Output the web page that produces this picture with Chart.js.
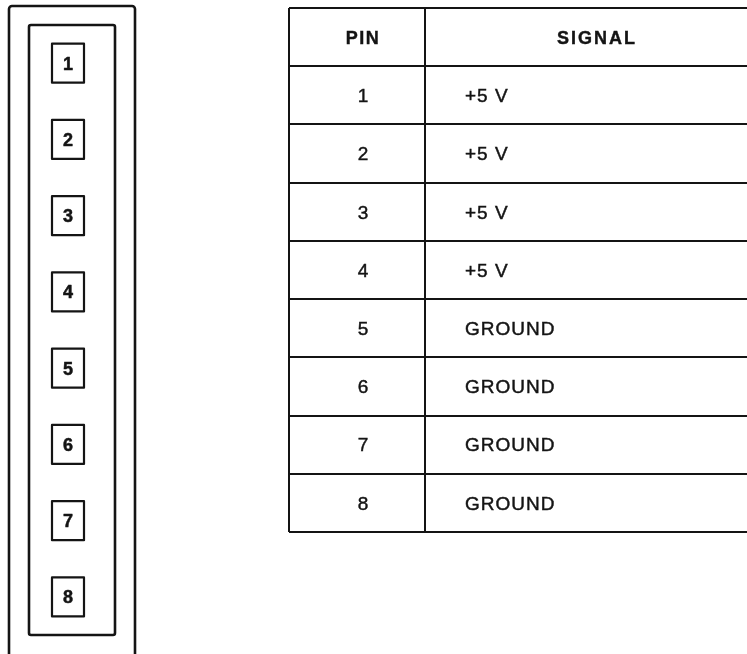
<!DOCTYPE html>
<html><head><meta charset="utf-8">
<script src="https://cdn.jsdelivr.net/npm/chart.js@4"></script>
<style>
html,body{margin:0;padding:0;background:#fff;}
#wrap{position:relative;width:747px;height:654px;overflow:hidden;background:#fff;}
canvas{position:absolute;left:0;top:0;}
</style></head><body>
<div id="wrap"><canvas id="conn" width="747" height="654"></canvas><canvas id="tbl" width="747" height="654"></canvas></div>
<script>
// ---- data ----
const pins = [1, 2, 3, 4, 5, 6, 7, 8];
const signals = ['+5 V', '+5 V', '+5 V', '+5 V', 'GROUND', 'GROUND', 'GROUND', 'GROUND'];
const headers = ['PIN', 'SIGNAL'];
const pinLabels = pins.map(String);
const rowLabels = [headers[0]].concat(pinLabels);

// ---- style / layout ----
const INK = '#141414';
const FONT = '"Liberation Sans", Arial, sans-serif';
const BOX_X = 0.4535;      // pin box centre across the connector (fraction)
const COL_SPLIT = 0.2969;  // divider between table columns (fraction)
const COL1_CENTER = 0.1616;
const SIG_LEFT = 0.3843;
const SIG_HDR = 0.6725;

function capText(ctx, txt, x, y, size, bold, align, spacing, weightStroke) {
  ctx.font = (bold ? 'bold ' : '') + size + 'px ' + FONT;
  ctx.letterSpacing = spacing + 'px';
  ctx.textAlign = align;
  ctx.textBaseline = 'alphabetic';
  const by = y + size * 0.358;
  ctx.fillText(txt, x, by);
  if (weightStroke) {
    ctx.lineWidth = weightStroke;
    ctx.strokeStyle = INK;
    ctx.strokeText(txt, x, by);
  }
}

const connPlugin = {
  id: 'connDraw',
  afterDatasetsDraw(chart) {
    const { ctx, chartArea: a } = chart;
    ctx.save();
    ctx.strokeStyle = INK;
    ctx.lineJoin = 'round';
    ctx.lineWidth = 2.6;
    ctx.beginPath();
    ctx.roundRect(a.left - 20, a.top - 19, a.width + 40, 720, 3);
    ctx.stroke();
    ctx.beginPath();
    ctx.roundRect(a.left, a.top, a.width, a.height, 2);
    ctx.stroke();
    const meta = chart.getDatasetMeta(0);
    meta.data.forEach((pt, i) => {
      ctx.lineWidth = 2.2;
      ctx.strokeStyle = INK;
      ctx.strokeRect(pt.x - 16, pt.y - 19.5, 32, 39);
      ctx.fillStyle = INK;
      capText(ctx, String(pins[i]), pt.x, pt.y, 18, true, 'center', 0, 0.5);
    });
    ctx.restore();
  }
};

new Chart(document.getElementById('conn'), {
  type: 'scatter',
  data: { datasets: [{ data: pinLabels.map(p => ({ x: BOX_X, y: p })), pointRadius: 0 }] },
  options: {
    responsive: false, animation: false, devicePixelRatio: 1, events: [],
    layout: { padding: { left: 29, top: 25, right: 632, bottom: 19 } },
    plugins: { legend: { display: false }, tooltip: { enabled: false } },
    scales: {
      x: { type: 'linear', min: 0, max: 1, display: false },
      y: { type: 'category', labels: pinLabels, offset: true, display: false }
    }
  },
  plugins: [connPlugin]
});

const tblPlugin = {
  id: 'tblDraw',
  afterDatasetsDraw(chart) {
    const { ctx } = chart;
    ctx.save();
    ctx.fillStyle = INK;
    chart.getDatasetMeta(0).data.forEach((pt, i) => {
      if (i === 0) capText(ctx, headers[0], pt.x, pt.y, 18, true, 'center', 1.5, 0.4);
      else capText(ctx, pinLabels[i - 1], pt.x, pt.y, 19, false, 'center', 0, 0.45);
    });
    chart.getDatasetMeta(1).data.forEach((pt, i) => {
      if (i === 0) capText(ctx, headers[1], pt.x, pt.y, 18, true, 'center', 2, 0.4);
      else capText(ctx, signals[i - 1], pt.x, pt.y, 19, false, 'left', 1, 0.45);
    });
    ctx.restore();
  }
};

new Chart(document.getElementById('tbl'), {
  type: 'scatter',
  data: {
    datasets: [
      { data: rowLabels.map(l => ({ x: COL1_CENTER, y: l })), pointRadius: 0 },
      { data: [{ x: SIG_HDR, y: headers[0] }].concat(pinLabels.map(l => ({ x: SIG_LEFT, y: l }))), pointRadius: 0 }
    ]
  },
  options: {
    responsive: false, animation: false, devicePixelRatio: 1, events: [],
    layout: { padding: { left: 289, top: 8, right: 0, bottom: 122 } },
    plugins: { legend: { display: false }, tooltip: { enabled: false } },
    scales: {
      x: {
        type: 'linear', position: 'top', min: 0, max: 1,
        ticks: { display: false },
        grid: { color: INK, lineWidth: 2, drawTicks: false },
        border: { display: false },
        afterBuildTicks: s => { s.ticks = [{ value: 0 }, { value: COL_SPLIT }]; }
      },
      y: {
        type: 'category', labels: rowLabels, offset: true,
        ticks: { display: false },
        grid: { offset: true, color: INK, lineWidth: 2, drawTicks: false },
        border: { display: false }
      }
    }
  },
  plugins: [tblPlugin]
});
</script>
</body></html>
